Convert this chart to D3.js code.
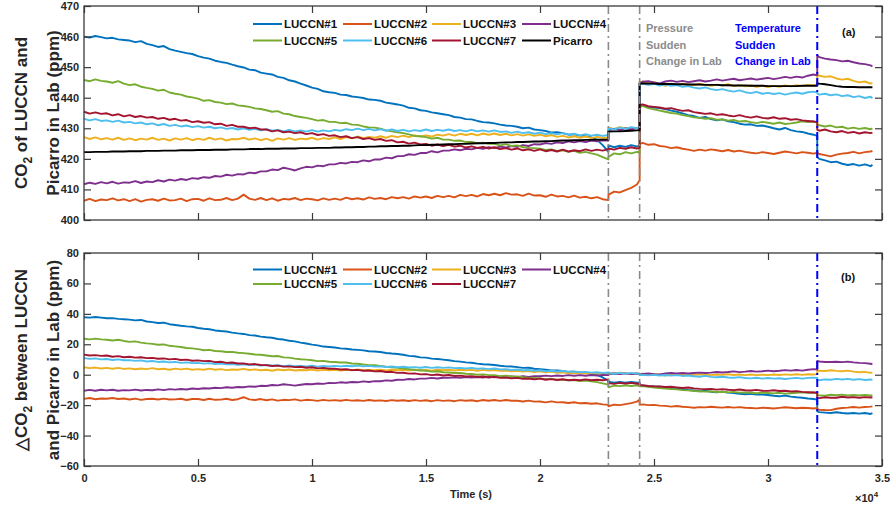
<!DOCTYPE html>
<html><head><meta charset="utf-8">
<script src="https://cdn.jsdelivr.net/npm/d3@7/dist/d3.min.js"></script>
<style>
body{margin:0;background:#fff;}
svg{display:block;font-family:"Liberation Sans",Arial,Helvetica,sans-serif;}
</style></head><body>
<svg id="chart" width="890" height="508"></svg>
<script>
// Sample times (s): 250 s grid, with repeated instants where the lab conditions jump
const timeS = [
  ...d3.range(0, 23001, 250),
  ...d3.range(23000, 24251, 250), 24370,
  24370, ...d3.range(24500, 32001, 250), 32160,
  32160, ...d3.range(32250, 34501, 250), 34580
];

// CO2 (ppm) of each LUCCN sensor in the lab
const luccn1 = [
  460.0,459.7,460.2,459.8, 459.4,459.6,459.1,458.9, 458.7,458.2,458.5,457.6, 457.2,456.6,456.9,455.9,
  455.4,455.0,454.6,454.3, 453.6,453.1,452.8,452.1, 451.7,451.4,450.8,450.3, 449.9,449.2,449.0,448.2,
  447.9,447.6,446.8,446.5, 445.7,445.3,444.6,444.0, 443.3,442.9,442.1,441.8, 441.6,441.0,440.9,440.4,
  440.2,439.9,439.4,439.3, 439.0,438.4,438.1,437.8, 437.4,436.7,436.5,435.9, 435.7,435.2,434.9,434.6,
  434.3,433.7,433.5,433.0, 432.9,432.4,432.0,431.9, 431.6,431.2,430.9,430.8, 430.5,430.0,430.2,429.6,
  429.4,429.1,428.6,428.7, 428.4,427.9,428.0,427.6, 427.4,427.0,426.2,424.5, 422.3,
  424.4,423.8,424.3,423.9,424.5,424.1,424.2,
  437.8,437.4,437.0,436.8,436.6,436.3,435.8,435.4,434.9,434.3,434.0,433.4,433.7,433.0,432.6,432.9,432.3,
  432.0,431.5,431.2,431.3,430.8,430.9,430.5,430.0,429.6,430.1,429.4,429.0,428.8,428.3,427.9,427.5,
  420.6,420.0,419.5,418.9,419.1,418.4,418.0,418.3,417.8,418.2,417.6,418.1
];
const luccn2 = [
  406.3,406.9,406.2,406.7, 406.5,407.1,406.4,406.8, 406.2,406.8,406.0,406.6, 406.8,406.3,407.0,406.4,
  406.5,407.0,406.2,406.8, 406.9,406.3,407.1,406.5, 406.6,407.2,406.5,407.0, 408.3,407.0,406.6,407.2,
  406.5,407.1,406.3,406.9, 406.7,407.2,406.5,407.0, 406.8,406.4,407.1,406.6, 407.0,406.6,407.3,406.8,
  407.1,406.7,407.4,406.9, 407.2,406.8,407.5,407.1, 407.5,407.0,407.7,407.3, 407.7,407.2,407.9,407.5,
  407.9,407.4,408.2,407.8, 408.2,407.7,408.5,408.1, 408.6,408.1,408.8,408.3, 408.4,407.9,408.6,408.0,
  408.1,407.6,408.3,407.7, 407.9,407.4,408.0,407.3, 407.6,407.1,407.5,406.8, 406.5,
  408.2,409.3,409.0,409.8,410.5,411.6,413.0,
  424.8,425.2,424.6,424.8,424.2,424.0,423.5,423.8,423.3,423.0,422.6,423.0,422.7,423.1,422.8,422.5,422.9,
  422.4,422.7,422.3,422.0,421.8,422.2,421.9,421.6,422.0,422.4,422.1,421.8,422.2,422.0,421.7,422.0,
  422.0,421.6,421.2,420.8,421.4,421.7,421.9,422.3,421.8,422.2,422.4,422.6
];
const luccn3 = [
  427.1,426.5,427.0,426.4, 426.8,426.3,426.9,426.2, 426.7,426.1,426.6,426.3, 426.9,426.2,426.6,426.0,
  426.7,426.3,426.8,426.1, 426.6,426.2,426.9,426.3, 426.7,426.0,426.5,426.4, 426.9,426.3,426.7,426.1,
  426.6,425.9,426.7,426.3, 426.8,426.2,426.6,426.4, 426.9,426.3,426.8,426.5, 427.0,426.5,427.1,426.7,
  427.3,426.8,427.2,426.9, 427.4,426.9,427.5,427.1, 427.6,427.1,427.7,427.3, 427.7,427.3,427.9,427.6,
  428.1,427.6,428.2,427.8, 428.2,427.7,428.3,427.9, 428.3,427.8,428.2,427.7, 428.1,427.6,428.0,427.5,
  427.9,427.4,427.8,427.2, 427.5,427.0,427.4,426.9, 427.3,426.8,427.2,426.9, 427.0,
  430.2,429.8,430.4,430.0,429.7,430.1,429.9,
  445.0,445.3,444.8,445.1,444.5,443.9,444.6,444.2,444.6,444.3,444.1,444.5,444.2,443.9,444.3,444.0,444.4,
  443.8,444.1,443.7,444.0,443.6,443.9,443.5,443.9,443.6,444.0,443.7,444.1,443.8,444.2,444.0,444.3,
  447.6,447.2,446.8,447.0,446.3,445.9,446.2,445.5,445.0,445.3,444.6,444.9
];
const luccn4 = [
  411.7,412.2,411.8,412.4, 412.0,412.5,411.9,412.3, 412.2,412.7,412.1,412.6, 412.4,413.0,412.6,413.2,
  412.9,413.4,413.1,413.7, 413.5,414.0,413.8,414.4, 414.2,414.8,414.5,415.0, 414.9,415.5,415.3,415.9,
  415.9,416.5,416.3,417.1, 416.7,416.2,416.9,417.4, 417.2,417.8,417.6,418.2, 418.2,418.7,418.5,419.0,
  418.9,419.5,419.2,419.8, 419.8,420.4,420.2,420.9, 420.9,421.5,421.3,421.9, 421.9,422.5,422.1,422.7,
  422.7,423.1,422.8,423.3, 423.1,423.6,423.3,423.8, 423.5,424.0,423.7,424.2, 423.9,424.5,424.2,424.8,
  424.7,425.2,424.9,425.4, 425.2,425.7,425.4,425.8, 425.5,426.0,425.7,426.1, 426.0,
  429.3,429.8,429.4,430.0,429.6,430.1,429.8,
  444.8,445.2,445.4,445.0,444.7,445.3,445.6,445.2,445.5,445.1,445.4,445.7,445.3,445.6,446.0,445.6,445.9,
  446.2,445.7,446.0,446.3,445.9,446.2,446.5,446.1,446.4,446.8,446.5,446.9,446.6,447.2,447.6,447.3,
  453.8,453.3,452.8,452.5,452.3,451.9,452.1,451.6,451.2,451.0,450.6,450.2
];
const luccn5 = [
  445.8,445.4,446.0,445.5, 445.3,444.9,445.4,444.6, 444.1,444.4,443.6,443.2, 442.9,442.3,442.6,441.7,
  441.3,441.0,440.4,440.1, 439.7,439.0,439.2,438.6, 438.4,437.9,438.1,437.5, 437.3,437.0,436.5,436.3,
  435.9,435.4,435.6,434.8, 434.6,434.0,433.7,433.4, 433.0,432.5,432.7,432.1, 432.1,431.7,431.8,431.2,
  431.1,430.6,430.3,430.2, 429.9,429.3,429.0,428.7, 428.4,428.0,427.5,427.4, 427.1,426.6,426.9,426.3,
  426.3,425.9,426.0,425.5, 425.5,425.1,425.3,424.9, 424.9,424.4,424.8,424.2, 424.4,423.8,423.6,423.5,
  423.3,422.9,423.1,422.6, 422.8,422.3,422.6,422.0, 422.3,421.8,421.4,420.6, 419.8,
  420.6,421.8,421.5,422.2,421.8,422.3,422.0,
  437.0,437.3,436.6,436.2,435.8,435.4,435.0,434.8,434.3,434.0,433.6,433.4,433.1,433.3,432.8,432.9,432.5,
  432.7,432.2,432.4,432.0,431.7,432.1,431.8,431.5,431.9,431.4,431.6,431.9,432.3,432.0,432.2,431.9,
  431.2,431.0,430.6,430.9,430.3,430.5,429.9,430.2,429.8,430.1,429.7,430.0
];
const luccn6 = [
  433.1,432.6,433.0,432.4, 432.6,432.1,432.5,431.9, 432.1,431.6,431.9,431.3, 431.6,431.0,431.4,430.8,
  431.1,430.6,430.9,430.4, 430.7,430.2,430.5,430.0, 430.3,429.8,430.1,429.6, 430.0,429.5,429.8,429.3,
  429.7,429.2,429.5,429.0, 429.5,429.0,429.3,428.9, 429.4,428.9,429.3,429.0, 429.5,429.2,429.7,429.4,
  429.9,429.4,429.8,429.3, 429.7,429.2,429.6,429.1, 429.5,429.0,429.4,429.1, 429.6,429.1,429.5,429.2,
  429.6,429.1,429.4,429.0, 429.5,429.0,429.3,428.9, 429.3,428.8,429.0,428.5, 428.9,428.4,428.7,428.2,
  428.6,428.1,428.4,428.0, 428.4,427.9,428.2,427.7, 428.1,427.6,427.9,427.5, 427.8,
  430.0,429.6,430.2,429.8,430.4,430.0,430.3,
  444.3,444.6,444.2,444.5,444.0,444.3,443.9,444.1,443.6,443.8,443.3,443.0,443.4,442.8,442.5,442.8,442.3,
  442.0,442.4,441.8,441.5,441.9,441.3,441.6,441.2,441.5,441.0,441.4,441.7,441.3,441.8,442.0,441.7,
  441.4,441.0,441.3,440.8,441.1,440.5,440.8,440.2,440.5,439.9,440.3,439.8
];
const luccn7 = [
  435.4,434.8,435.2,434.7, 434.9,434.2,434.6,433.9, 434.3,433.7,434.0,433.5, 433.7,433.1,433.4,432.8,
  433.1,432.5,432.7,432.0, 432.3,431.8,432.0,431.3, 431.5,430.8,431.1,430.5, 430.5,430.0,430.2,429.6,
  429.6,429.0,429.3,428.7, 428.9,428.4,428.7,428.1, 428.4,427.8,428.1,427.5, 427.7,427.1,427.4,426.8,
  427.1,426.5,426.8,426.2, 426.5,425.9,426.1,425.4, 425.6,425.0,425.3,424.7, 424.9,424.3,424.7,424.2,
  424.6,424.0,424.3,423.7, 424.1,423.6,423.9,423.4, 423.8,423.2,423.5,423.0, 423.4,422.8,423.1,422.6,
  423.1,422.5,422.9,422.4, 423.0,422.4,422.8,422.5, 423.1,422.6,423.0,422.7, 423.2,
  423.4,423.0,423.6,423.3,423.8,423.4,423.6,
  437.6,437.8,437.2,437.0,436.8,436.4,436.6,436.1,435.7,435.9,435.3,435.0,434.7,434.9,434.4,434.6,434.2,
  433.9,434.3,433.8,433.5,433.9,433.4,433.2,433.6,433.1,433.3,432.8,433.0,432.6,432.4,432.2,432.0,
  429.5,429.2,429.6,429.0,428.7,429.1,428.5,428.8,428.3,428.7,428.4,428.6
];
// Picarro reference analyser (ppm)
const picarro = [
  422.2,422.2,422.3,422.3, 422.3,422.4,422.4,422.4, 422.5,422.5,422.5,422.6, 422.6,422.6,422.7,422.7,
  422.7,422.8,422.8,422.8, 422.9,422.9,422.9,423.0, 423.0,423.0,423.1,423.1, 423.1,423.2,423.2,423.2,
  423.3,423.3,423.3,423.4, 423.4,423.4,423.5,423.5, 423.5,423.6,423.6,423.6, 423.7,423.7,423.8,423.8,
  423.9,423.9,424.0,424.0, 424.1,424.1,424.2,424.2, 424.3,424.3,424.4,424.5, 424.5,424.6,424.6,424.7,
  424.8,424.8,424.9,424.9, 425.0,425.1,425.1,425.2, 425.2,425.3,425.4,425.4, 425.5,425.5,425.6,425.7,
  425.7,425.8,425.8,425.9, 426.0,426.0,426.1,426.1, 426.2,426.2,426.3,426.3, 426.3,
  428.9,429.0,429.0,429.1,429.2,429.3,429.4,
  444.6,444.7,444.6,444.6,444.5,444.5,444.5,444.4,444.4,444.3,444.3,444.3,444.2,444.2,444.2,444.1,444.1,
  444.0,444.0,444.0,443.9,443.9,443.9,443.8,443.8,443.8,443.8,443.8,443.8,443.9,443.9,443.9,443.9,
  444.7,444.6,444.4,444.1,443.8,443.6,443.5,443.5,443.4,443.4,443.4,443.4
];

const sensorNames = ["LUCCN#1","LUCCN#2","LUCCN#3","LUCCN#4","LUCCN#5","LUCCN#6","LUCCN#7"];
const sensorColors = ["#0072BD","#D95319","#EDB120","#7E2F8E","#77AC30","#4DBEEE","#A2142F"];
const sensorSeries = [luccn1, luccn2, luccn3, luccn4, luccn5, luccn6, luccn7];

const xTickValues = [0,5000,10000,15000,20000,25000,30000,35000];
const xTickLabels = ["0","0.5","1","1.5","2","2.5","3","3.5"];
const topTickValues = [400,410,420,430,440,450,460,470];
const bottomTickValues = [-60,-40,-20,0,20,40,60,80];

// instants of the sudden pressure / temperature changes in the lab (s)
const pressureChanges = [23000, 24370];
const temperatureChange = 32160;

[...sensorSeries, picarro].forEach((s, i) => {
  if (s.length !== timeS.length) throw new Error("series " + i + " has " + s.length + " values, expected " + timeS.length);
});

// ---- drawing ----
const svg = d3.select("#chart");
const plotL = 84, plotR = 882;
const panelA = {top: 6, bottom: 220};
const panelB = {top: 253, bottom: 466};
const axisColor = "#3a3a3a";
const tickFont = "bold 11px 'Liberation Sans', Arial, sans-serif";

const x = d3.scaleLinear().domain([0, 35000]).range([plotL, plotR]);
const yA = d3.scaleLinear().domain([400, 470]).range([panelA.bottom, panelA.top]);
const yB = d3.scaleLinear().domain([-60, 80]).range([panelB.bottom, panelB.top]);

const deltas = sensorSeries.map(s => s.map((v, i) => v - picarro[i]));

function drawFrame(y, panel, tickValues, showXLabels) {
  const g = svg.append("g");
  const tick = 7;
  const left = g.append("g").attr("transform", `translate(${plotL},0)`)
    .call(d3.axisLeft(y).tickValues(tickValues).tickSizeInner(-tick).tickSizeOuter(0).tickPadding(5).tickFormat(d3.format("d")));
  const right = g.append("g").attr("transform", `translate(${plotR},0)`)
    .call(d3.axisRight(y).tickValues(tickValues).tickSizeInner(-tick).tickSizeOuter(0).tickFormat(""));
  const top = g.append("g").attr("transform", `translate(0,${panel.top})`)
    .call(d3.axisTop(x).tickValues(xTickValues).tickSizeInner(-tick).tickSizeOuter(0).tickFormat(""));
  const bottom = g.append("g").attr("transform", `translate(0,${panel.bottom})`)
    .call(d3.axisBottom(x).tickValues(xTickValues).tickSizeInner(-tick).tickSizeOuter(0).tickPadding(8)
      .tickFormat((d, i) => showXLabels ? xTickLabels[i] : ""));
  [left, right, top, bottom].forEach(a => {
    a.select(".domain").remove();
    a.selectAll(".tick line").attr("stroke", axisColor).attr("stroke-width", 1.2);
    a.selectAll(".tick text").style("font", tickFont).attr("fill", "#262626");
  });
  g.append("rect")
    .attr("x", plotL).attr("y", panel.top)
    .attr("width", plotR - plotL).attr("height", panel.bottom - panel.top)
    .attr("fill", "none").attr("stroke", axisColor).attr("stroke-width", 1.3);
  return g;
}

function drawSeries(y, list, colors) {
  const line = d3.line().x((d, i) => x(timeS[i])).y(d => y(d));
  const g = svg.append("g");
  list.forEach((s, k) => {
    g.append("path").datum(s).attr("d", line)
      .attr("fill", "none").attr("stroke", colors[k])
      .attr("stroke-width", 1.9).attr("stroke-linejoin", "round");
  });
}

function drawEvents(panel) {
  const g = svg.append("g");
  pressureChanges.forEach(t => {
    g.append("line").attr("x1", x(t)).attr("x2", x(t))
      .attr("y1", panel.top).attr("y2", panel.bottom)
      .attr("stroke", "#8a8a8a").attr("stroke-width", 1.6).attr("stroke-dasharray", "8,4,2,4");
  });
  g.append("line").attr("x1", x(temperatureChange)).attr("x2", x(temperatureChange))
    .attr("y1", panel.top).attr("y2", panel.bottom)
    .attr("stroke", "#0000FF").attr("stroke-width", 2).attr("stroke-dasharray", "8,4,2,4");
}

function drawLegend(names, colors, rowY) {
  const colX = [253, 343, 432, 522];
  const g = svg.append("g");
  names.forEach((n, i) => {
    const cx = colX[i % 4], cy = rowY[Math.floor(i / 4)];
    g.append("line").attr("x1", cx).attr("x2", cx + 29).attr("y1", cy).attr("y2", cy)
      .attr("stroke", colors[i]).attr("stroke-width", 2);
    g.append("text").attr("x", cx + 31).attr("y", cy + 4)
      .style("font", "bold 11.5px 'Liberation Sans', Arial, sans-serif").attr("fill", "#111").text(n);
  });
}

// panel (a): absolute CO2
drawSeries(yA, [...sensorSeries, picarro], [...sensorColors, "#000000"]);
drawEvents(panelA);
drawFrame(yA, panelA, topTickValues, false);
drawLegend([...sensorNames, "Picarro"], [...sensorColors, "#000000"], [24, 40.5]);

// panel (b): difference to the Picarro
drawSeries(yB, deltas, sensorColors);
drawEvents(panelB);
drawFrame(yB, panelB, bottomTickValues, true);
drawLegend(sensorNames, sensorColors, [269.5, 284]);

// annotations
const noteFont = "bold 11px 'Liberation Sans', Arial, sans-serif";
["Pressure", "Sudden", "Change in Lab"].forEach((t, i) => {
  svg.append("text").attr("x", 646).attr("y", 32 + i * 16.5).style("font", noteFont).attr("fill", "#8c8c8c").text(t);
});
["Temperature", "Sudden", "Change in Lab"].forEach((t, i) => {
  svg.append("text").attr("x", 735).attr("y", 32 + i * 16.5).style("font", noteFont).attr("fill", "#0000FF").text(t);
});
svg.append("text").attr("x", 842).attr("y", 36).style("font", noteFont).attr("fill", "#111").text("(a)");
svg.append("text").attr("x", 841).attr("y", 281).style("font", noteFont).attr("fill", "#111").text("(b)");

// axis titles
const titleFont = "bold 17px 'Liberation Sans', Arial, sans-serif";
function yTitle(cx, cy, parts) {
  const t = svg.append("text").attr("transform", `translate(${cx},${cy}) rotate(-90)`)
    .attr("text-anchor", "middle").style("font", titleFont).attr("fill", "#262626");
  parts.forEach(p => {
    const ts = t.append("tspan").text(p.text);
    if (p.sub) ts.attr("dy", 5).style("font-size", "12px");
    if (p.after) ts.attr("dy", -5);
  });
}
yTitle(27, 113, [{text: "CO"}, {text: "2", sub: true}, {text: " of LUCCN and", after: true}]);
yTitle(59, 113, [{text: "Picarro in Lab (ppm)"}]);
yTitle(27, 360, [{text: "\u25B3CO"}, {text: "2", sub: true}, {text: " between LUCCN", after: true}]);
yTitle(59, 360, [{text: "and Picarro in Lab (ppm)"}]);

svg.append("text").attr("x", 471).attr("y", 498).attr("text-anchor", "middle")
  .style("font", "bold 11px 'Liberation Sans', Arial, sans-serif").attr("fill", "#262626").text("Time (s)");
const ex = svg.append("text").attr("x", 855).attr("y", 502)
  .style("font", "bold 11px 'Liberation Sans', Arial, sans-serif").attr("fill", "#262626");
ex.append("tspan").text("\u00D710");
ex.append("tspan").attr("dy", -5).style("font-size", "8px").text("4");
</script>
</body></html>
